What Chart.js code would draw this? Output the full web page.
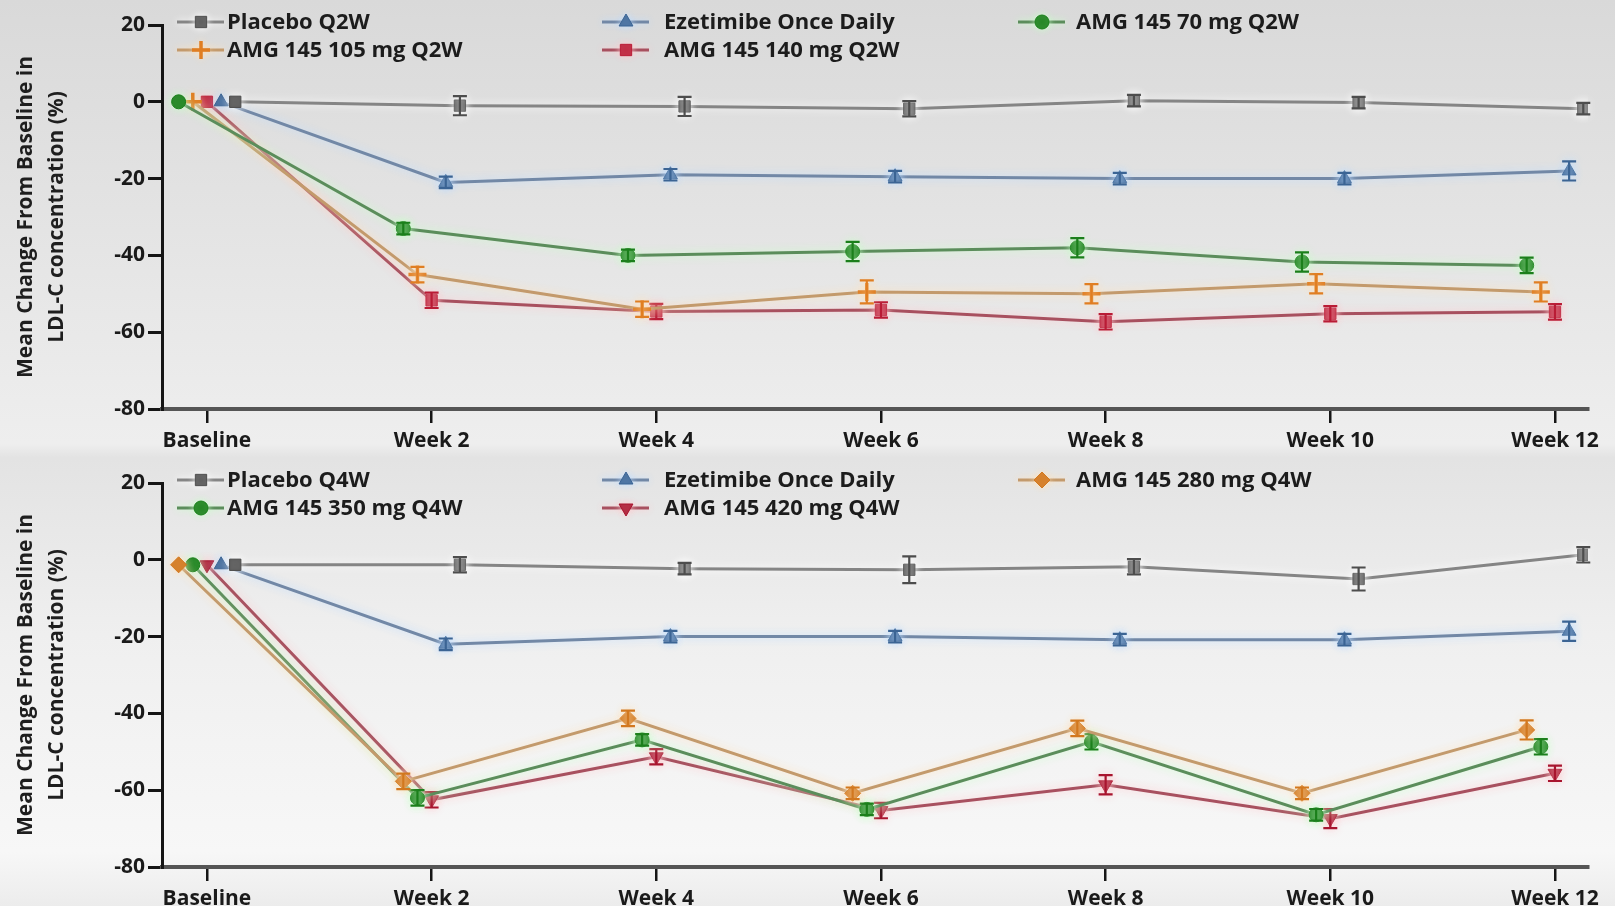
<!DOCTYPE html>
<html>
<head>
<meta charset="utf-8">
<script src="https://cdn.jsdelivr.net/npm/chart.js@4.4.1/dist/chart.umd.min.js"></script>
<style>
  html, body { margin: 0; padding: 0; width: 1615px; height: 906px; overflow: hidden; }
  body {
    background: linear-gradient(to bottom, #d9d9d9 0%, #e6e6e6 30%, #eeeeee 49%, #e3e3e3 50.5%, #efefef 70%, #f7f7f7 94%, #ececec 100%);
    font-family: "Open Sans", sans-serif;
  }
  .panel { position: absolute; left: 0; width: 1615px; height: 458px; }
  #panel-q2w { top: 0; }
  #panel-q4w { top: 458px; }
</style>
</head>
<body>
<div class="panel" id="panel-q2w"><canvas id="chartQ2W"></canvas></div>
<div class="panel" id="panel-q4w"><canvas id="chartQ4W"></canvas></div>
<script>
// ======================
// DATA
// ======================
const weekLabels = ["Baseline", "Week 2", "Week 4", "Week 6", "Week 8", "Week 10", "Week 12"];
const yTicks = [20, 0, -20, -40, -60, -80];

// top panel: Q2W dosing
const placeboQ2W    = [0, -1, -1.2, -1.8, 0.3, -0.2, -1.8];
const placeboQ2WErr = [0, 2.5, 2.5, 2, 1.5, 1.5, 1.5];
const ezeQ2W        = [0, -21, -19, -19.5, -20, -20, -18];
const ezeQ2WErr     = [0, 1.5, 1.5, 1.5, 1.5, 1.5, 2.5];
const amg70Q2W      = [0, -33, -40, -39, -38, -41.7, -42.6];
const amg70Q2WErr   = [0, 1.5, 1.5, 2.5, 2.5, 2.5, 2];
const amg105Q2W     = [0, -45, -54, -49.5, -50, -47.4, -49.5];
const amg105Q2WErr  = [0, 2, 2, 3, 2.5, 2.5, 2.5];
const amg140Q2W     = [0, -51.7, -54.6, -54.2, -57.3, -55.2, -54.7];
const amg140Q2WErr  = [0, 2, 2, 2, 2, 2, 2];

// bottom panel: Q4W dosing
const placeboQ4W    = [-1.3, -1.3, -2.3, -2.6, -1.8, -5, 1.3];
const placeboQ4WErr = [0, 2, 1.5, 3.5, 2, 3, 2];
const ezeQ4W        = [-1.3, -22, -20, -20, -20.8, -20.8, -18.6];
const ezeQ4WErr     = [0, 1.5, 1.5, 1.5, 1.5, 1.5, 2.5];
const amg280Q4W     = [-1.3, -57.7, -41.3, -60.8, -43.9, -60.8, -44.3];
const amg280Q4WErr  = [0, 2, 2, 1.5, 2, 1.5, 2.5];
const amg350Q4W     = [-1.3, -62, -46.9, -65, -47.4, -66.4, -48.7];
const amg350Q4WErr  = [0, 2, 1.5, 1.5, 2, 1.5, 2];
const amg420Q4W     = [-1.3, -62.5, -51.3, -65.3, -58.6, -67.4, -55.6];
const amg420Q4WErr  = [0, 2, 2, 2, 2.5, 2.5, 2];

// ======================
// STYLES
// ======================
const DODGE = 0.063;          // horizontal shift between series at one visit
const LEGEND_LINE = [177, 602, 1018];
const LEGEND_TEXT = [227, 664, 1076];
const LEGEND_ROWS = [22, 50];
const FONT = '"Open Sans", "Noto Sans", sans-serif';

const STYLE = {
  placebo: { line: "#858585", mark: "#4d4d4d", glow: "rgba(255,255,255,0.95)", shape: "rect", r: 8 },
  eze:     { line: "#7288a6", mark: "#3b6494", glow: "rgba(190,220,255,0.95)", shape: "triangle", r: 8 },
  green:   { line: "#5b8d5b", mark: "#1b7f1b", glow: "rgba(200,255,200,0.95)", shape: "circle", r: 7 },
  orangeX: { line: "#c39a6c", mark: "#e07e22", glow: "rgba(255,225,185,0.95)", shape: "cross", r: 9, bw: 3.5 },
  red:     { line: "#a8505f", mark: "#b91b35", glow: "rgba(255,200,205,0.95)", shape: "rect", r: 8 },
  orangeD: { line: "#c39a6c", mark: "#d2781f", glow: "rgba(255,225,185,0.95)", shape: "rectRot", r: 8 },
  redDown: { line: "#a8505f", mark: "#a8142e", glow: "rgba(255,200,205,0.95)", shape: "triangle", r: 8, rot: 180 }
};

// ======================
// HELPERS
// ======================
function series(label, values, errors, slot, style, legendSlot) {
  return {
    label,
    data: values.map((v, i) => ({ x: i + slot * DODGE, y: v })),
    errors,
    legendSlot,
    glow: style.glow,
    borderColor: style.line,
    borderWidth: 3,
    tension: 0,
    pointStyle: style.shape,
    pointRadius: style.r,
    pointRotation: style.rot || 0,
    pointBackgroundColor: style.mark,
    pointBorderColor: style.mark,
    pointBorderWidth: style.bw || 1,
    errorColor: style.mark
  };
}

const decorPlugin = {
  id: "seriesDecor",
  beforeDatasetDraw(chart, args) {
    const ds = chart.data.datasets[args.index];
    chart.ctx.save();
    chart.ctx.shadowColor = ds.glow;
    chart.ctx.shadowBlur = 8;
  },
  afterDatasetDraw(chart, args) {
    const ds = chart.data.datasets[args.index];
    const ctx = chart.ctx;
    const { x, y } = chart.scales;
    ctx.strokeStyle = ds.errorColor;
    ctx.lineWidth = 2.2;
    ds.data.forEach((p, i) => {
      const e = ds.errors[i];
      if (!e) return;
      const px = x.getPixelForValue(p.x);
      const top = y.getPixelForValue(p.y + e);
      const bot = y.getPixelForValue(p.y - e);
      ctx.beginPath();
      ctx.moveTo(px, top); ctx.lineTo(px, bot);
      ctx.moveTo(px - 7, top); ctx.lineTo(px + 7, top);
      ctx.moveTo(px - 7, bot); ctx.lineTo(px + 7, bot);
      ctx.stroke();
    });
    ctx.restore();
  }
};

const legendPlugin = {
  id: "panelLegend",
  afterDraw(chart) {
    const ctx = chart.ctx;
    chart.data.datasets.forEach(ds => {
      const col = ds.legendSlot[0];
      const x0 = LEGEND_LINE[col];
      const y0 = LEGEND_ROWS[ds.legendSlot[1]];
      ctx.save();
      ctx.shadowColor = ds.glow;
      ctx.shadowBlur = 7;
      ctx.strokeStyle = ds.borderColor;
      ctx.lineWidth = 3;
      ctx.beginPath();
      ctx.moveTo(x0, y0);
      ctx.lineTo(x0 + 47, y0);
      ctx.stroke();
      ctx.fillStyle = ds.pointBackgroundColor;
      ctx.strokeStyle = ds.pointBorderColor;
      ctx.lineWidth = ds.pointBorderWidth;
      Chart.helpers.drawPoint(ctx, {
        pointStyle: ds.pointStyle,
        radius: ds.pointRadius,
        rotation: ds.pointRotation,
        borderWidth: ds.pointBorderWidth
      }, x0 + 24, y0);
      ctx.shadowBlur = 0;
      ctx.fillStyle = "#1c1c1c";
      ctx.font = "bold 22px " + FONT;
      ctx.textBaseline = "middle";
      ctx.fillText(ds.label, LEGEND_TEXT[col], y0 + 1);
      ctx.restore();
    });
  }
};

function renderPanel(canvasId, datasets) {
  const tickFont = { family: FONT, weight: "bold", size: 21 };
  new Chart(document.getElementById(canvasId), {
    type: "line",
    data: { datasets },
    plugins: [decorPlugin, legendPlugin],
    options: {
      responsive: true,
      maintainAspectRatio: false,
      animation: false,
      layout: { padding: { top: 25, right: 27, left: 0, bottom: 0 } },
      plugins: { legend: { display: false }, tooltip: { enabled: false } },
      scales: {
        x: {
          type: "linear",
          min: -0.2,
          max: 6.147,
          afterFit: s => { s.height = 49; },
          afterBuildTicks: s => { s.ticks = weekLabels.map((_, i) => ({ value: i })); },
          ticks: {
            autoSkip: false,
            maxRotation: 0,
            padding: 5,
            color: "#1a1a1a",
            font: tickFont,
            callback: v => weekLabels[v]
          },
          grid: { drawOnChartArea: false, tickLength: 14, color: "#151515", lineWidth: 2.5 },
          border: { color: "#555555", width: 4 }
        },
        y: {
          min: -80,
          max: 20,
          afterFit: s => { s.width = 162; },
          afterBuildTicks: s => { s.ticks = yTicks.map(v => ({ value: v })); },
          ticks: { padding: 3, color: "#1a1a1a", font: tickFont },
          grid: { drawOnChartArea: false, tickLength: 14, color: "#151515", lineWidth: 3 },
          border: { color: "#151515", width: 3 },
          title: {
            display: true,
            text: ["Mean Change From Baseline in", "LDL-C concentration (%)"],
            color: "#1e1e1e",
            font: { family: FONT, weight: "bold", size: 21, lineHeight: 1.5 },
            padding: { top: 10, bottom: 0 }
          }
        }
      }
    }
  });
}

document.addEventListener("DOMContentLoaded", () => {
  renderPanel("chartQ2W", [
    series("Placebo Q2W", placeboQ2W, placeboQ2WErr, 2, STYLE.placebo, [0, 0]),
    series("Ezetimibe Once Daily", ezeQ2W, ezeQ2WErr, 1, STYLE.eze, [1, 0]),
    series("AMG 145 70 mg Q2W", amg70Q2W, amg70Q2WErr, -2, STYLE.green, [2, 0]),
    series("AMG 145 105 mg Q2W", amg105Q2W, amg105Q2WErr, -1, STYLE.orangeX, [0, 1]),
    series("AMG 145 140 mg Q2W", amg140Q2W, amg140Q2WErr, 0, STYLE.red, [1, 1])
  ]);

  renderPanel("chartQ4W", [
    series("Placebo Q4W", placeboQ4W, placeboQ4WErr, 2, STYLE.placebo, [0, 0]),
    series("Ezetimibe Once Daily", ezeQ4W, ezeQ4WErr, 1, STYLE.eze, [1, 0]),
    series("AMG 145 280 mg Q4W", amg280Q4W, amg280Q4WErr, -2, STYLE.orangeD, [2, 0]),
    series("AMG 145 350 mg Q4W", amg350Q4W, amg350Q4WErr, -1, STYLE.green, [0, 1]),
    series("AMG 145 420 mg Q4W", amg420Q4W, amg420Q4WErr, 0, STYLE.redDown, [1, 1])
  ]);
});
</script>
</body>
</html>
